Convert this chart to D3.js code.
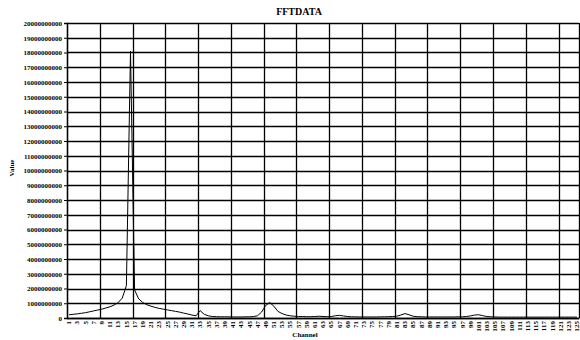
<!DOCTYPE html>
<html><head><meta charset="utf-8">
<script src="https://cdn.jsdelivr.net/npm/d3@7"></script>
<style>
html,body{margin:0;padding:0;background:#fff;}
svg{display:block;}
text{font-family:"Liberation Serif","Times New Roman",serif;fill:#000;}
</style></head>
<body>
<svg id="chart" width="580" height="340"></svg>
<script>
const title = "FFTDATA";
const xTitle = "Channel";
const yTitle = "Value";
const channels = d3.range(1, 126);
const values = [
  0.22e9,0.25e9,0.28e9,0.32e9,0.36e9,0.42e9,0.48e9,0.54e9,0.6e9,0.68e9,0.76e9,0.88e9,1.05e9,1.35e9,2.2e9,18.1e9,
  1.9e9,1.3e9,1.05e9,0.9e9,0.8e9,0.72e9,0.65e9,0.6e9,0.55e9,0.5e9,0.45e9,0.4e9,0.33e9,0.27e9,0.2e9,0.15e9,
  0.5e9,0.25e9,0.15e9,0.1e9,0.09e9,0.08e9,0.08e9,0.08e9,0.07e9,0.07e9,0.07e9,0.08e9,0.08e9,0.1e9,0.15e9,0.4e9,
  0.85e9,1.05e9,0.8e9,0.45e9,0.3e9,0.2e9,0.15e9,0.12e9,0.1e9,0.1e9,0.09e9,0.09e9,0.1e9,0.12e9,0.1e9,0.09e9,
  0.1e9,0.15e9,0.18e9,0.14e9,0.1e9,0.08e9,0.08e9,0.07e9,0.07e9,0.07e9,0.07e9,0.07e9,0.08e9,0.08e9,0.09e9,0.1e9,
  0.12e9,0.2e9,0.3e9,0.22e9,0.12e9,0.09e9,0.08e9,0.07e9,0.07e9,0.07e9,0.07e9,0.07e9,0.07e9,0.07e9,0.07e9,0.08e9,
  0.08e9,0.1e9,0.14e9,0.2e9,0.22e9,0.16e9,0.1e9,0.08e9,0.07e9,0.06e9,0.06e9,0.06e9,0.06e9,0.06e9,0.06e9,0.06e9,
  0.06e9,0.06e9,0.06e9,0.06e9,0.06e9,0.06e9,0.06e9,0.06e9,0.06e9,0.06e9,0.06e9,0.06e9,0.06e9
];
const yTicks = d3.range(0, 20000000001, 1000000000);
const xTickLabels = channels.filter(c => c % 2 === 1);
const gridEvery = 8;

const svg = d3.select("#chart");
const mLeft = 67, mRight = 579, mTop = 23, mBottom = 318;

const x = d3.scaleBand().domain(channels).range([mLeft, mRight]).padding(0);
const y = d3.scaleLinear().domain([0, 20000000000]).range([mBottom, mTop]);

// horizontal gridlines
svg.append("g").selectAll("line").data(yTicks).join("line")
  .attr("x1", mLeft).attr("x2", mRight)
  .attr("y1", d => Math.round(y(d)) + 0.5).attr("y2", d => Math.round(y(d)) + 0.5)
  .attr("stroke", "#000").attr("stroke-width", 1.3);

// vertical gridlines
const vBound = channels.filter(c => (c - 1) % gridEvery === 0).map(c => x(c)).concat([mRight]);
svg.append("g").selectAll("line").data(vBound).join("line")
  .attr("x1", d => Math.round(d) + 0.5).attr("x2", d => Math.round(d) + 0.5)
  .attr("y1", mTop).attr("y2", mBottom)
  .attr("stroke", "#000").attr("stroke-width", 1.3);

// y axis
const yAxis = d3.axisLeft(y).tickValues(yTicks).tickFormat(d3.format("d")).tickSize(3).tickPadding(2);
const gy = svg.append("g").attr("transform", `translate(${mLeft},0)`).call(yAxis);
gy.select(".domain").attr("stroke", "#000").attr("stroke-width", 1.3);
gy.selectAll("text").attr("font-size", 7).attr("font-family", "Liberation Serif").attr("font-weight", "bold");

// x axis
const xAxis = d3.axisBottom(x).tickValues(xTickLabels).tickSize(0).tickPadding(3);
const gx = svg.append("g").attr("transform", `translate(0,${mBottom})`).call(xAxis);
gx.select(".domain").attr("stroke", "#000").attr("stroke-width", 1.3);
gx.selectAll("text")
  .attr("font-size", 7).attr("font-family", "Liberation Serif").attr("font-weight", "bold")
  .attr("transform", "rotate(-90)")
  .attr("text-anchor", "end").attr("dy", "0.32em").attr("x", -3).attr("y", 0);

// line
const line = d3.line().x((d, i) => x(channels[i]) + x.bandwidth() / 2).y(d => y(d));
svg.append("path").datum(values).attr("d", line)
  .attr("fill", "none").attr("stroke", "#000").attr("stroke-width", 1);

// titles
svg.append("text").attr("x", 299).attr("y", 15).attr("text-anchor", "middle")
  .attr("font-size", 10).attr("font-weight", "bold").text(title);
svg.append("text").attr("x", 305).attr("y", 337).attr("text-anchor", "middle")
  .attr("font-size", 7).attr("font-weight", "bold").text(xTitle);
svg.append("text").attr("transform", "translate(14,168) rotate(-90)").attr("text-anchor", "middle")
  .attr("font-size", 7).attr("font-weight", "bold").text(yTitle);
</script>
</body></html>
